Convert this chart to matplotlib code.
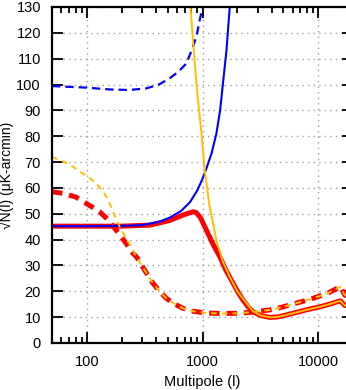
import matplotlib
matplotlib.use("Agg")
import matplotlib.pyplot as plt
from matplotlib.ticker import LogLocator, NullFormatter, MultipleLocator

plt.rcParams['font.family'] = ['Liberation Sans', 'DejaVu Sans']
plt.rcParams['lines.scale_dashes'] = False

# blue experiment
blue_l = [50, 100, 200, 300, 430, 520, 650, 780, 900, 1000, 1080, 1200, 1318, 1420, 1503, 1610, 1720]
blue_n = [45.2, 45.2, 45.3, 45.6, 47.0, 48.5, 51.0, 54.5, 59.0, 63.5, 67.5, 73.5, 81.0, 90.0, 100.5, 113.0, 130.0]
blue_dash_l = [50, 100, 157, 234, 327, 420, 520, 620, 726, 828, 890, 946, 990, 1010]
blue_dash_n = [99.4, 98.8, 98.1, 97.9, 98.5, 100.0, 102.4, 105.0, 108.2, 114.6, 119.0, 125.0, 128.8, 131.0]

# combined (red)
red_l = [50, 200, 349, 520, 678, 828, 880, 960, 1080, 1240, 1410, 1600, 1840, 2050, 2240, 2500, 2730,
         3200, 3815, 4500, 6070, 8000, 10350, 12500, 14900, 15600, 17000, 20000]
red_n = [45.2, 45.2, 45.6, 47.4, 49.5, 50.8, 50.5, 48.5, 43.7, 38.0, 33.4, 28.0, 23.1, 19.3, 16.6, 13.8, 12.1,
         10.6, 9.9, 10.1, 11.5, 12.9, 14.0, 15.0, 16.1, 16.3, 14.5, 14.5]
red_dash_l = [50, 62, 80, 99, 129, 150, 179, 215, 250, 268, 320, 373, 430, 486, 580, 678, 850, 1080,
              1500, 2000, 2500, 3000, 3815, 4700, 5680, 7200, 9050, 12000, 15600, 17000, 20000]
red_dash_n = [58.5, 57.9, 56.5, 54.0, 50.8, 48.0, 43.7, 39.0, 34.7, 33.4, 27.8, 23.1, 19.8, 17.3, 15.0, 13.4, 12.2, 11.6,
              11.4, 11.5, 11.8, 12.2, 12.8, 13.7, 14.7, 16.0, 17.3, 19.2, 21.8, 18.5, 18.0]

# yellow experiment
yel_l = [786, 885, 980, 1045, 1140, 1318, 1500, 1720, 2000, 2400, 2730,
         3200, 3815, 4500, 6070, 8000, 10350, 12500, 14900, 15600, 17000, 20000]
yel_n = [130.0, 100.5, 81.0, 67.0, 54.0, 39.8, 31.5, 25.6, 20.0, 15.4, 12.3,
         10.6, 9.9, 10.1, 11.5, 12.9, 14.0, 15.0, 16.1, 16.3, 14.5, 14.5]
yel_dash_l = [50, 70, 92, 110, 129, 150, 170, 192, 230, 268, 320, 373, 430, 486, 580, 678, 850, 1080,
              1500, 2000, 2500, 3000, 3815, 4700, 5680, 7200, 9050, 12000, 15600, 17000, 20000]
yel_dash_n = [72.0, 69.3, 65.6, 63.3, 60.3, 56.2, 50.5, 45.0, 38.8, 33.4, 27.8, 23.1, 19.8, 17.3, 15.0, 13.4, 12.2, 11.6,
              11.4, 11.5, 11.8, 12.2, 12.8, 13.7, 14.7, 16.0, 17.3, 19.2, 21.8, 18.5, 18.0]

red = '#ff0000'
blue = '#0000ff'
yellow = '#ffc000'

fig = plt.figure(figsize=(3.46, 3.9), dpi=100)
ax = fig.add_axes([52/346, 1 - 343/390, (353 - 52)/346, 336/390])

ax.plot(red_l, red_n, color=red, lw=3.6, solid_joinstyle='round')
ax.plot(red_dash_l, red_dash_n, color=red, lw=3.6, dashes=(7.5, 5))
ax.plot(blue_l, blue_n, color=blue, lw=1.5)
ax.plot(blue_dash_l, blue_dash_n, color=blue, lw=1.6, dashes=(6, 3.6))
ax.plot(yel_l, yel_n, color=yellow, lw=1.4)
ax.plot(yel_dash_l, yel_dash_n, color=yellow, lw=1.4, dashes=(4.3, 3.4))

ax.set_xscale('log')
ax.set_xlim(50, 20000)
ax.set_ylim(0, 130)
ax.yaxis.set_major_locator(MultipleLocator(10))
ax.xaxis.set_minor_locator(LogLocator(base=10, subs=range(2, 10), numticks=20))
ax.xaxis.set_minor_formatter(NullFormatter())
ax.set_xticks([100, 1000, 10000])
ax.set_xticklabels(['100', '1000', '10000'])

ax.grid(True, which='major', color='#a0a0a0', lw=1.0, ls=(0, (1, 3)))
ax.tick_params(which='both', direction='in', top=True, right=True, width=1.3, labelsize=10.5, color='black')
ax.tick_params(which='major', length=8, pad=9)
ax.tick_params(which='minor', length=4.5)
ax.tick_params(axis='y', pad=8)
for s in ax.spines.values():
    s.set_linewidth(1.6)

ax.set_xlabel('Multipole (l)', fontsize=10.5, labelpad=4)
ax.set_ylabel('√N(l) (μK-arcmin)', fontsize=10)
ax.yaxis.set_label_coords(-0.126, 0.5)

fig.savefig('out.png', dpi=100)
